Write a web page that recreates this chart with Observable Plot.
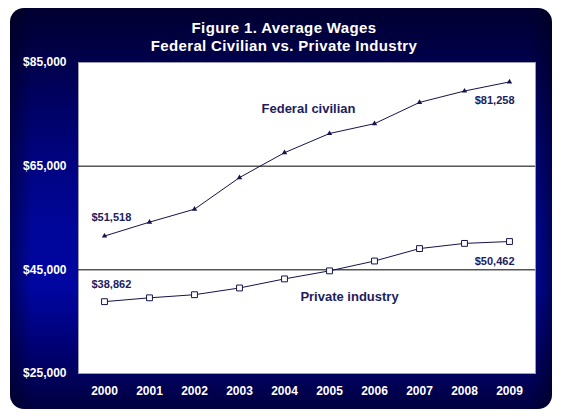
<!DOCTYPE html>
<html>
<head>
<meta charset="utf-8">
<script src="https://cdn.jsdelivr.net/npm/d3@7"></script>
<script src="https://cdn.jsdelivr.net/npm/@observablehq/plot@0.6"></script>
<style>
  body { margin: 0; background: #ffffff; }
  #wrap { position: relative; width: 561px; height: 419px; overflow: hidden; font-family: "Liberation Sans", Arial, sans-serif; }
  #bg {
    position: absolute; left: 10px; top: 8px; width: 542px; height: 401px; border-radius: 14px;
    background:
      linear-gradient(to right, rgba(0,0,25,0.5) 0%, rgba(0,0,25,0) 4%, rgba(0,0,25,0) 96%, rgba(0,0,25,0.5) 100%),
      linear-gradient(to bottom, #000030 0%, #00004c 13%, #00037a 35%, #00069a 55%, #0006a0 70%, #000070 86%, #000040 100%);
  }
  #title {
    position: absolute; left: 0; top: 0; width: 561px; box-sizing: border-box; padding-left: 7px; padding-top: 19px;
    color: #ffffff; font-weight: bold; font-size: 15px; line-height: 18.4px; letter-spacing: 0.35px; text-align: center;
  }
  #chart { position: absolute; left: 0; top: 48px; }
</style>
</head>
<body>
<div id="wrap">
  <div id="bg"></div>
  <div id="chart"></div>
  <div id="title">Figure 1. Average Wages<br>Federal Civilian vs. Private Industry</div>
</div>
<script>
// ---- data ----
const years = [2000, 2001, 2002, 2003, 2004, 2005, 2006, 2007, 2008, 2009];
const federalCivilian = [51518, 54200, 56700, 62800, 67600, 71300, 73200, 77300, 79500, 81258];
const privateIndustry = [38862, 39600, 40200, 41500, 43250, 44800, 46700, 49100, 50100, 50462];
const yTicks = [25000, 45000, 65000, 85000];
const gridValues = [45000, 65000];
const seriesNames = ["Federal civilian", "Private industry"];

const fed = years.map((y, i) => ({year: y, value: federalCivilian[i]}));
const priv = years.map((y, i) => ({year: y, value: privateIndustry[i]}));

const navy = "#14144a";
const textNavy = "#1c1c60";
const money = d => "$" + d3.format(",")(d);
const font = "Liberation Sans, Arial, sans-serif";

const chart = Plot.plot({
  width: 561,
  height: 371,
  marginTop: 14,
  marginBottom: 46,
  marginLeft: 78,
  marginRight: 26,
  style: {background: "transparent", fontFamily: font, overflow: "visible"},
  x: {type: "point", domain: years, padding: 0.5},
  y: {domain: [25000, 85000]},
  marks: [
    Plot.frame({fill: "white", stroke: "#9c9cb0"}),
    Plot.ruleY(gridValues, {stroke: "black", strokeWidth: 1}),
    Plot.axisX({tickSize: 0, tickPadding: 13, fill: "white", fontWeight: "bold", fontSize: 12, label: null, tickFormat: d => String(d)}),
    Plot.axisY({ticks: yTicks, tickFormat: money, tickSize: 0, tickPadding: 12, fill: "white", fontWeight: "bold", fontSize: 12, label: null}),
    Plot.line(fed, {x: "year", y: "value", stroke: navy, strokeWidth: 1}),
    Plot.dot(fed, {x: "year", y: "value", symbol: "triangle", fill: navy, stroke: null, r: 2}),
    Plot.line(priv, {x: "year", y: "value", stroke: navy, strokeWidth: 1}),
    Plot.dot(priv, {x: "year", y: "value", symbol: "square", fill: "white", stroke: navy, strokeWidth: 1, r: 3.3}),
    // value labels at first and last points
    Plot.text([fed[0]], {x: "year", y: "value", text: d => money(d.value), dx: -13, dy: -19, textAnchor: "start", fill: textNavy, fontWeight: "bold", fontSize: 11}),
    Plot.text([priv[0]], {x: "year", y: "value", text: d => money(d.value), dx: -13, dy: -17, textAnchor: "start", fill: textNavy, fontWeight: "bold", fontSize: 11}),
    Plot.text([fed[fed.length - 1]], {x: "year", y: "value", text: d => money(d.value), dx: 5, dy: 19, textAnchor: "end", fill: textNavy, fontWeight: "bold", fontSize: 11}),
    Plot.text([priv[priv.length - 1]], {x: "year", y: "value", text: d => money(d.value), dx: 5, dy: 20, textAnchor: "end", fill: textNavy, fontWeight: "bold", fontSize: 11}),
    // series names
    Plot.text([fed[4]], {x: "year", y: "value", text: () => seriesNames[0], dx: 24, dy: -44, fill: textNavy, fontWeight: "bold", fontSize: 13}),
    Plot.text([priv[5]], {x: "year", y: "value", text: () => seriesNames[1], dx: 20, dy: 26, fill: textNavy, fontWeight: "bold", fontSize: 13})
  ]
});
document.getElementById("chart").appendChild(chart);
</script>
</body>
</html>
